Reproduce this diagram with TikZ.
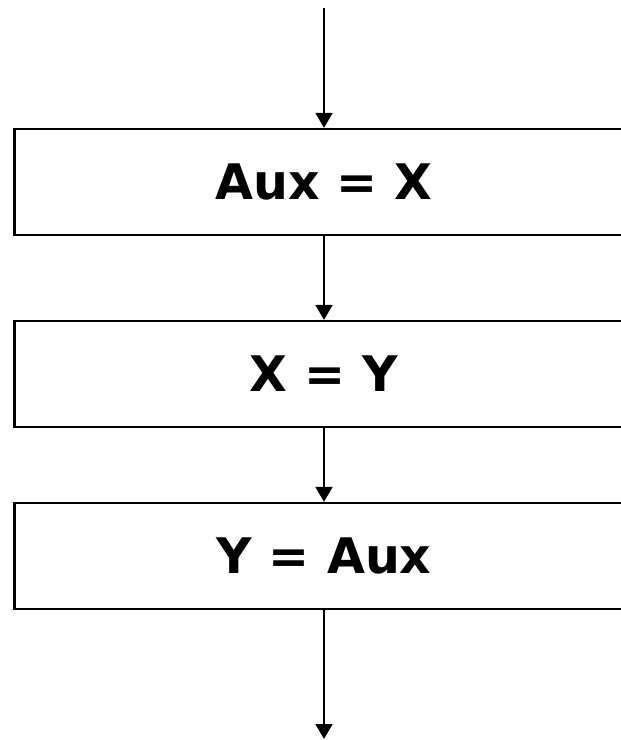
\documentclass[tikz,border=0pt]{standalone}
\usepackage{fontspec}
\setmainfont{DejaVu Sans}
\usetikzlibrary{arrows.meta}
\begin{document}
\begin{tikzpicture}[x=1pt,y=1pt,
  procbox/.style={draw=black, line width=2.4pt, minimum width=619pt, minimum height=106pt,
    inner sep=0pt, font=\fontsize{49}{59}\selectfont\bfseries},
  flow/.style={draw=black, line width=2pt, -{Triangle[length=15pt,width=17pt]}}]
\clip (0,0) rectangle (621,-740);
\node[procbox] (b1) at (324,-182) {Aux = X};
\node[procbox] (b2) at (324,-374) {X = Y};
\node[procbox] (b3) at (324,-556) {Y = Aux};
\coordinate (start) at (324,-8);
\coordinate (stop) at (324,-739);
\draw[flow] (start) -- (b1.north);
\draw[flow] (b1.south) -- (b2.north);
\draw[flow] (b2.south) -- (b3.north);
\draw[flow] (b3.south) -- (stop);
\end{tikzpicture}
\end{document}
